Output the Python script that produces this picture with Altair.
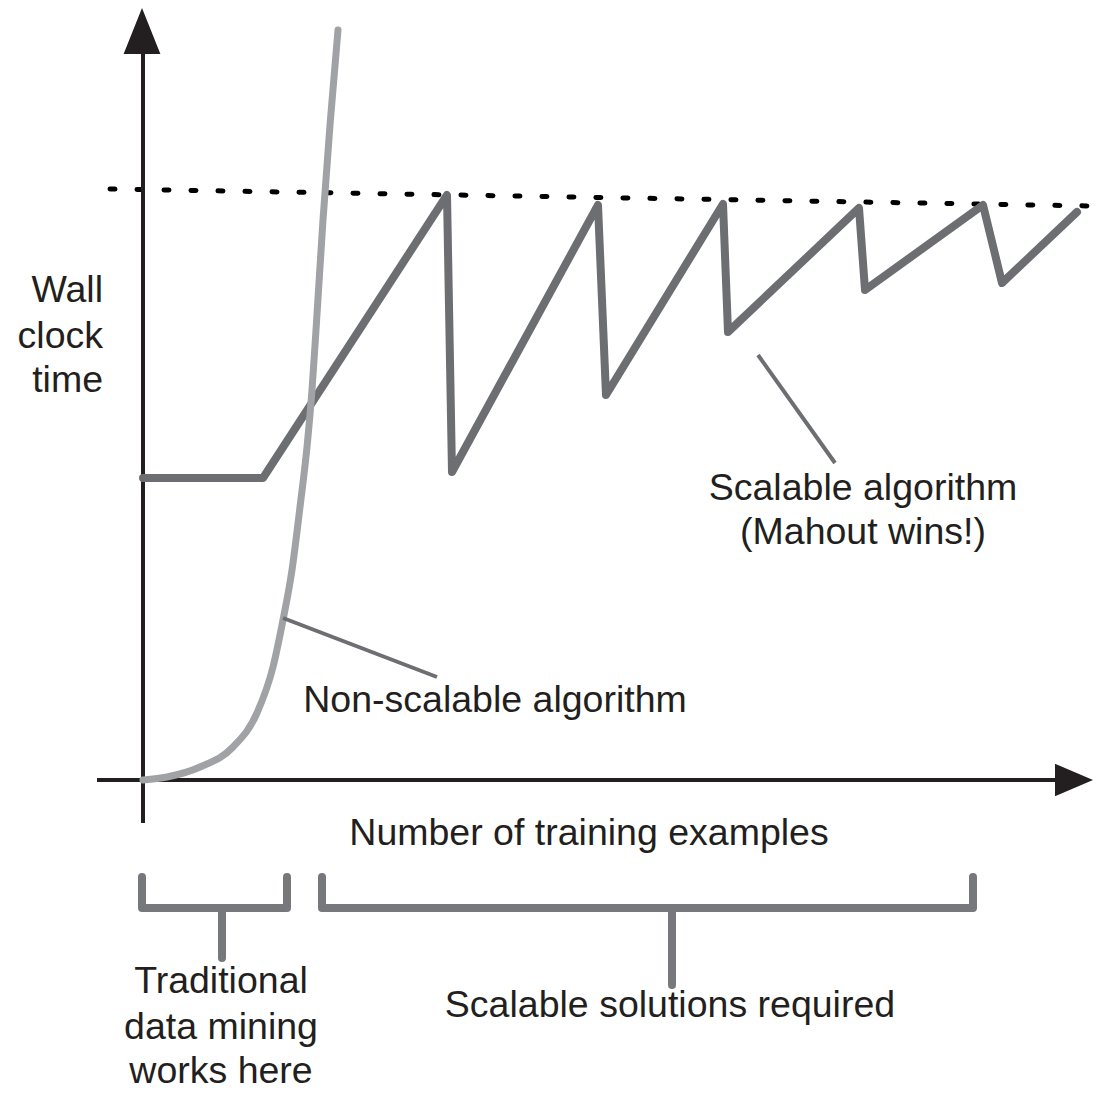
import altair as alt
import pandas as pd

# Coordinate system: x = number of training examples, y = wall clock time
# (arbitrary units, origin where the two axes cross)

# Scalable algorithm (saw-tooth that stays under the time limit)
scal_x = [0, 120, 304, 309, 455, 463, 580, 585, 716, 722, 840, 859, 934]
scal_y = [302, 302, 585, 308, 575, 385, 576, 448, 572, 490, 575, 497, 568]

# Non-scalable algorithm (explodes quickly)
nons_x = [0, 24, 57, 90, 114, 130, 140, 149, 157, 164, 169, 173, 180, 187, 195]
nons_y = [0, 3, 13, 33, 67, 113, 160, 210, 273, 333, 390, 450, 560, 655, 750]

# Dotted time limit
limit_x = [-33, 949]
limit_y = [591, 574]

# Axes
axis_seg = ["y", "y", "x", "x"]
axis_x = [0, 0, -46, 912]
axis_y = [-43, 730, 0, 0]

# Arrow heads
head_name = ["up", "right"]
head_x = [-1, 931]
head_y = [749, 0]

# Callout lines
call_seg = ["non", "non", "scal", "scal"]
call_x = [140, 294, 615, 692]
call_y = [162, 103, 425, 317]

# Brackets
brk_seg = ["left"] * 4 + ["lstem"] * 2 + ["right"] * 4 + ["rstem"] * 2
brk_x = [-1, -1, 144, 144, 79, 79, 179, 179, 830, 830, 529, 529]
brk_y = [-97, -128, -128, -97, -128, -178, -97, -128, -128, -97, -128, -205]

# Labels
center_labels = ["Scalable algorithm", "(Mahout wins!)", "Non-scalable algorithm",
                 "Number of training examples", "Traditional", "data mining",
                 "works here", "Scalable solutions required"]
center_x = [720, 720, 352, 446, 78, 78, 78, 527]
center_y = [280, 236, 68, -65, -213, -259, -303, -237]

right_labels = ["Wall", "clock", "time"]
right_x = [-40, -40, -40]
right_y = [478, 432, 388]

XS = alt.Scale(domain=[-135, 951], nice=False, zero=False)
YS = alt.Scale(domain=[-306, 772], nice=False, zero=False)


def enc(**kw):
    return dict(x=alt.X("x:Q", scale=XS, axis=None),
                y=alt.Y("y:Q", scale=YS, axis=None), **kw)


def lines(xs, ys, segs=None):
    n = len(xs)
    return pd.DataFrame({"x": xs, "y": ys, "i": list(range(n)),
                         "seg": segs if segs is not None else ["a"] * n})


TEXT = "#231f20"
DARK = "#6d6e71"
LIGHT = "#a0a2a5"
FS = 37.5

axes = alt.Chart(lines(axis_x, axis_y, axis_seg)).mark_line(
    color=TEXT, strokeWidth=4).encode(**enc(detail="seg:N", order="i:Q"))

heads_df = pd.DataFrame({"x": head_x, "y": head_y, "name": head_name})
head_up = alt.Chart(heads_df[heads_df.name == "up"]).mark_point(
    shape="M0,-1L-0.8,1L0.8,1Z", filled=True, size=2116, color=TEXT,
    opacity=1, strokeWidth=0).encode(**enc())
head_right = alt.Chart(heads_df[heads_df.name == "right"]).mark_point(
    shape="M1,0L-1,-0.85L-1,0.85Z", filled=True, size=1444, color=TEXT,
    opacity=1, strokeWidth=0).encode(**enc())

limit = alt.Chart(lines(limit_x, limit_y)).mark_line(
    color="#000000", strokeWidth=5, strokeDash=[5, 22], strokeCap="round"
).encode(**enc(order="i:Q"))

scal = alt.Chart(lines(scal_x, scal_y)).mark_line(
    color=DARK, strokeWidth=8, strokeJoin="round", strokeCap="round"
).encode(**enc(order="i:Q"))

nons = alt.Chart(lines(nons_x, nons_y)).mark_line(
    color=LIGHT, strokeWidth=7, strokeCap="round", interpolate="monotone"
).encode(**enc(order="i:Q"))

callouts = alt.Chart(lines(call_x, call_y, call_seg)).mark_line(
    color=DARK, strokeWidth=4).encode(**enc(detail="seg:N", order="i:Q"))

brackets = alt.Chart(lines(brk_x, brk_y, brk_seg)).mark_line(
    color="#77787b", strokeWidth=8, strokeCap="round", strokeJoin="round"
).encode(**enc(detail="seg:N", order="i:Q"))

ctext = alt.Chart(pd.DataFrame({"x": center_x, "y": center_y, "t": center_labels})).mark_text(
    font="Liberation Sans", fontSize=FS, color=TEXT, align="center", baseline="alphabetic"
).encode(**enc(text="t:N"))

rtext = alt.Chart(pd.DataFrame({"x": right_x, "y": right_y, "t": right_labels})).mark_text(
    font="Liberation Sans", fontSize=FS, color=TEXT, align="right", baseline="alphabetic"
).encode(**enc(text="t:N"))

chart = alt.layer(
    limit, axes, head_up, head_right, scal, nons, callouts, brackets, ctext, rtext
).properties(
    width=1086, height=1078, padding=0,
    autosize=alt.AutoSizeParams(type="none"),
    background="white",
).configure_view(stroke=None)

chart.save("out.html", embed_options={"renderer": "svg", "actions": False})
